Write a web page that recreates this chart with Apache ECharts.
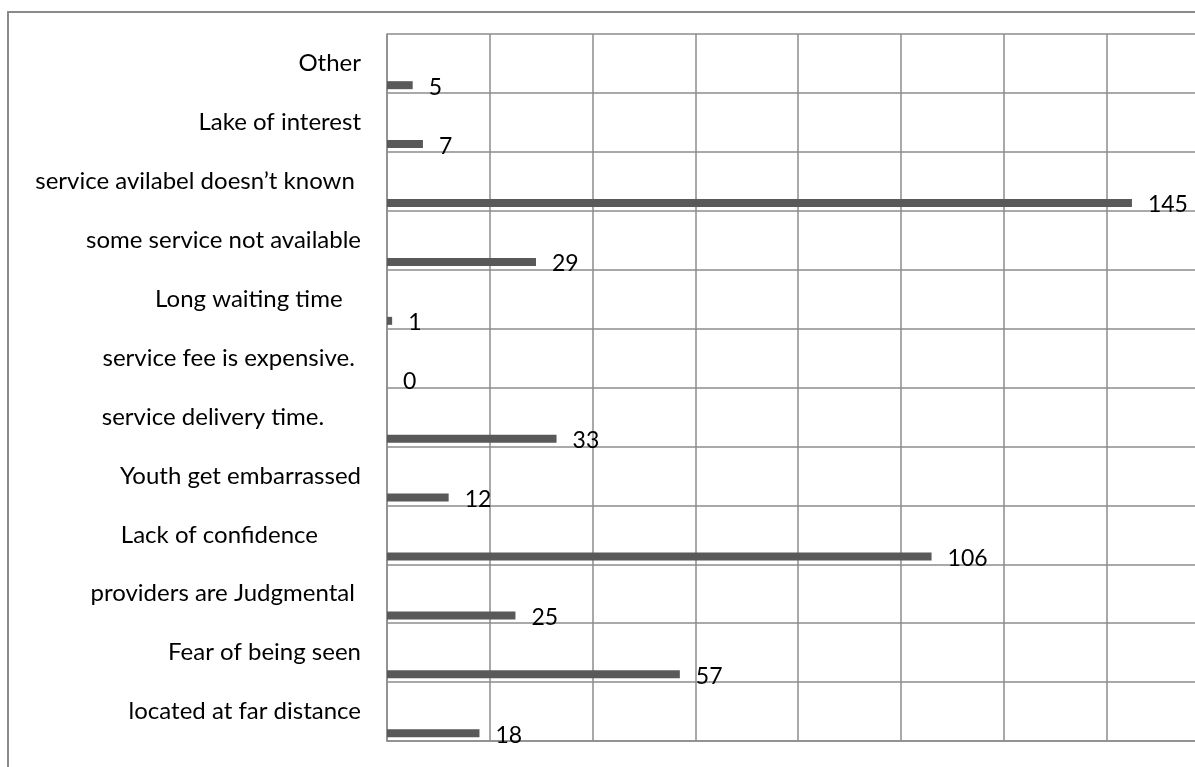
<!DOCTYPE html>
<html>
<head>
<meta charset="utf-8">
<script src="https://cdn.jsdelivr.net/npm/echarts@6/dist/echarts.min.js"></script>
<style>
  html, body { margin: 0; padding: 0; background: #fff; }
  #chart { width: 1195px; height: 767px; }
</style>
</head>
<body>
<div id="chart"></div>
<script>
// Reasons given, listed from the bottom row of the chart to the top row
const reasons = [
  'located at far distance',
  'Fear of being seen',
  'providers are Judgmental ',
  'Lack of confidence       ',
  'Youth get embarrassed',
  'service delivery time.      ',
  'service fee is expensive. ',
  'Long waiting time   ',
  'some service not available',
  'service avilabel doesn\u2019t known ',
  'Lake of interest',
  'Other'
];
// Number of respondents for each reason (same order)
const counts = [18, 57, 25, 106, 12, 33, 0, 1, 29, 145, 7, 5];

// Value axis range and step
const axisMin = 0;
const axisMax = 160;
const axisStep = 20;

const fontFamily = 'Lato, "Open Sans", sans-serif';
const gridColor = '#8c8c8c';

const chart = echarts.init(document.getElementById('chart'), null, { renderer: 'canvas' });

chart.setOption({
  animation: false,
  backgroundColor: '#ffffff',
  graphic: [{
    type: 'rect',
    shape: { x: 8, y: 12, width: 1220, height: 800 },
    style: { fill: 'none', stroke: '#8a8a8a', lineWidth: 2 },
    silent: true,
    z: -1
  }],
  grid: {
    left: 387, top: 34, height: 707, width: 822,
    containLabel: false,
    outerBoundsMode: 'none'
  },
  xAxis: {
    type: 'value',
    min: axisMin,
    max: axisMax,
    interval: axisStep,
    axisLabel: { show: false },
    axisTick: { show: false },
    axisLine: { show: true, lineStyle: { color: gridColor, width: 1.5 } },
    splitLine: { show: true, lineStyle: { color: gridColor, width: 1.5 } }
  },
  yAxis: {
    type: 'category',
    data: reasons,
    axisTick: { show: false },
    axisLine: { show: true, lineStyle: { color: gridColor, width: 1.5 } },
    splitLine: { show: true, interval: 0, lineStyle: { color: gridColor, width: 1.5 } },
    axisLabel: {
      interval: 0,
      margin: 26,
      color: '#000',
      fontFamily: fontFamily,
      fontSize: 24
    }
  },
  series: [
    {
      // spacer series that pushes the visible bars toward the bottom of each row
      type: 'bar',
      data: reasons.map(() => null),
      barWidth: 8,
      barGap: '443%',
      silent: true
    },
    {
      type: 'bar',
      data: counts,
      barWidth: 8,
      barGap: '443%',
      itemStyle: { color: '#595959' },
      label: {
        show: true,
        position: 'right',
        distance: 16,
        offset: [0, 2],
        color: '#000',
        fontFamily: fontFamily,
        fontSize: 23
      }
    }
  ]
});
</script>
</body>
</html>
